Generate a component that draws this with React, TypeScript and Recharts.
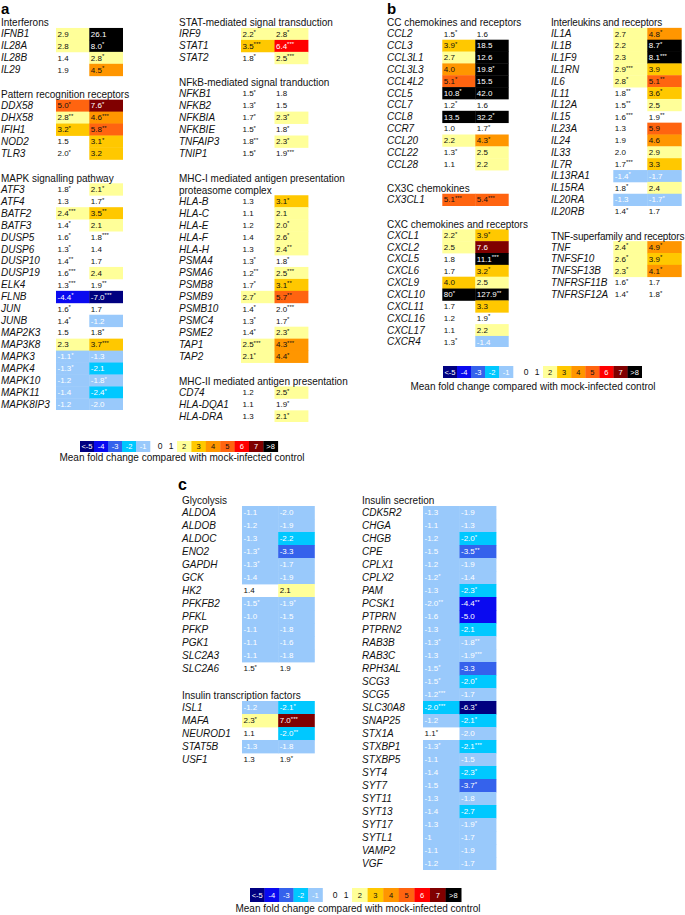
import React from 'react';
import { ScatterChart, Scatter, XAxis, YAxis } from 'recharts';

const FONT = '"Liberation Sans", Arial, Helvetica, sans-serif';

type Val = number | string;

/* ---------- panel a ---------- */
const ifnGenes = ['IFNB1', 'IL28A', 'IL28B', 'IL29'];
const ifnFc1: Val[] = [2.9, 2.8, 1.4, 1.9];
const ifnP1 = [0, 0, 0, 0];
const ifnFc2: Val[] = [26.1, 8.0, 2.8, 4.5];
const ifnP2 = [0, 1, 1, 1];

const prrGenes = ['DDX58', 'DHX58', 'IFIH1', 'NOD2', 'TLR3'];
const prrFc1: Val[] = [5.0, 2.8, 3.2, 1.5, 1.96];
const prrP1 = [1, 2, 1, 0, 1];
const prrFc2: Val[] = [7.6, 4.6, 5.8, 3.1, 3.2];
const prrP2 = [1, 3, 2, 1, 0];

const mapkGenes = ['ATF3', 'ATF4', 'BATF2', 'BATF3', 'DUSP5', 'DUSP6', 'DUSP10', 'DUSP19', 'ELK4', 'FLNB', 'JUN', 'JUNB', 'MAP2K3', 'MAP3K8', 'MAPK3', 'MAPK4', 'MAPK10', 'MAPK11', 'MAPK8IP3'];
const mapkFc1: Val[] = [1.8, 1.3, 2.4, 1.4, 1.6, 1.3, 1.4, 1.6, 1.3, -4.4, 1.6, 1.4, 1.5, 2.3, -1.1, -1.3, -1.2, -1.4, -1.2];
const mapkP1 = [1, 0, 3, 1, 1, 1, 2, 3, 3, 1, 1, 1, 0, 0, 1, 1, 0, 0, 0];
const mapkFc2: Val[] = [2.1, 1.7, 3.5, 2.1, 1.8, 1.4, 1.7, 2.4, 1.9, -7.0, 1.7, -1.2, 1.8, 3.7, -1.3, -2.1, -1.8, -2.4, -1.96];
const mapkP2 = [1, 1, 2, 0, 3, 0, 0, 0, 2, 3, 0, 0, 1, 3, 0, 0, 1, 1, 0];

const statGenes = ['IRF9', 'STAT1', 'STAT2'];
const statFc1: Val[] = [2.2, 3.5, 1.8];
const statP1 = [1, 3, 1];
const statFc2: Val[] = [2.8, 6.4, 2.5];
const statP2 = [1, 3, 3];

const nfkbGenes = ['NFKB1', 'NFKB2', 'NFKBIA', 'NFKBIE', 'TNFAIP3', 'TNIP1'];
const nfkbFc1: Val[] = [1.5, 1.3, 1.7, 1.5, 1.8, 1.5];
const nfkbP1 = [1, 1, 1, 1, 2, 1];
const nfkbFc2: Val[] = [1.8, 1.5, 2.3, 1.8, 2.3, 1.9];
const nfkbP2 = [0, 0, 1, 1, 1, 3];

const mhc1Genes = ['HLA-B', 'HLA-C', 'HLA-E', 'HLA-F', 'HLA-H', 'PSMA4', 'PSMA6', 'PSMB8', 'PSMB9', 'PSMB10', 'PSMC4', 'PSME2', 'TAP1', 'TAP2'];
const mhc1Fc1: Val[] = [1.3, 1.1, 1.2, 1.4, 1.3, 1.3, 1.2, 1.7, 2.7, 1.4, 1.3, 1.4, 2.5, 2.1];
const mhc1P1 = [0, 0, 0, 0, 0, 1, 2, 1, 1, 1, 1, 1, 3, 1];
const mhc1Fc2: Val[] = [3.1, 2.1, 2.0, 2.6, 2.4, 1.8, 2.5, 3.1, 5.7, 1.96, 1.7, 2.3, 4.3, 4.4];
const mhc1P2 = [1, 0, 1, 1, 2, 1, 3, 2, 2, 3, 1, 1, 3, 1];

const mhc2Genes = ['CD74', 'HLA-DQA1', 'HLA-DRA'];
const mhc2Fc1: Val[] = [1.2, 1.1, 1.3];
const mhc2P1 = [0, 0, 0];
const mhc2Fc2: Val[] = [2.5, 1.9, 2.1];
const mhc2P2 = [1, 1, 1];

/* ---------- panel b ---------- */
const ccGenes = ['CCL2', 'CCL3', 'CCL3L1', 'CCL3L3', 'CCL4L2', 'CCL5', 'CCL7', 'CCL8', 'CCR7', 'CCL20', 'CCL22', 'CCL28'];
const ccFc1: Val[] = [1.5, 3.9, 2.7, 4.0, 5.1, 10.8, 1.2, 13.5, 1.0, 2.2, 1.3, 1.1];
const ccP1 = [1, 1, 0, 0, 1, 1, 1, 0, 0, 0, 1, 0];
const ccFc2: Val[] = [1.6, 18.5, 12.6, 19.8, 15.5, 42.0, 1.6, 32.2, 1.7, 4.3, 2.5, 2.2];
const ccP2 = [0, 0, 0, 1, 0, 0, 0, 1, 1, 1, 0, 0];

const cx3cGenes = ['CX3CL1'];
const cx3cFc1: Val[] = [5.1];
const cx3cP1 = [3];
const cx3cFc2: Val[] = [5.4];
const cx3cP2 = [3];

const cxcGenes = ['CXCL1', 'CXCL2', 'CXCL5', 'CXCL6', 'CXCL9', 'CXCL10', 'CXCL11', 'CXCL16', 'CXCL17', 'CXCR4'];
const cxcFc1: Val[] = [2.2, 2.5, 1.8, 1.7, 3.96, '80', 1.7, 1.2, 1.1, 1.3];
const cxcP1 = [1, 0, 0, 0, 0, 1, 0, 0, 0, 1];
const cxcFc2: Val[] = [3.9, 7.6, 11.1, 3.2, 2.5, 127.9, 3.3, 1.9, 2.2, -1.4];
const cxcP2 = [1, 0, 3, 1, 0, 2, 0, 1, 0, 0];

const ilGenes = ['IL1A', 'IL1B', 'IL1F9', 'IL1RN', 'IL6', 'IL11', 'IL12A', 'IL15', 'IL23A', 'IL24', 'IL33', 'IL7R', 'IL13RA1', 'IL15RA', 'IL20RA', 'IL20RB'];
const ilFc1: Val[] = [2.7, 2.2, 2.3, 2.9, 2.8, 1.8, 1.5, 1.6, 1.3, 1.9, 1.96, 1.7, -1.4, 1.8, -1.3, 1.4];
const ilP1 = [0, 0, 0, 3, 1, 2, 2, 3, 0, 0, 0, 3, 1, 1, 0, 1];
const ilFc2: Val[] = [4.8, 8.7, 8.1, 3.9, 5.1, 3.6, 2.5, 1.9, 5.9, 4.6, 2.9, 3.3, -1.7, 2.4, -1.7, 1.7];
const ilP2 = [1, 1, 3, 0, 2, 1, 0, 2, 0, 0, 0, 0, 0, 0, 1, 0];

const tnfGenes = ['TNF', 'TNFSF10', 'TNFSF13B', 'TNFRSF11B', 'TNFRSF12A'];
const tnfFc1: Val[] = [2.4, 2.6, 2.3, 1.6, 1.4];
const tnfP1 = [1, 1, 1, 1, 1];
const tnfFc2: Val[] = [4.9, 3.9, 4.1, 1.7, 1.8];
const tnfP2 = [1, 1, 1, 0, 1];

/* ---------- panel c ---------- */
const glyGenes = ['ALDOA', 'ALDOB', 'ALDOC', 'ENO2', 'GAPDH', 'GCK', 'HK2', 'PFKFB2', 'PFKL', 'PFKP', 'PGK1', 'SLC2A3', 'SLC2A6'];
const glyFc1: Val[] = [-1.1, -1.2, -1.3, -1.3, -1.3, -1.4, 1.4, -1.5, -1.0, -1.1, -1.1, -1.1, 1.5];
const glyP1 = [0, 0, 0, 1, 1, 0, 0, 1, 0, 0, 0, 0, 1];
const glyFc2: Val[] = [-1.96, -1.9, -2.2, -3.3, -1.7, -1.9, 2.1, -1.9, -1.5, -1.8, -1.6, -1.8, 1.9];
const glyP2 = [0, 0, 0, 0, 0, 0, 0, 1, 0, 0, 0, 0, 0];

const itfGenes = ['ISL1', 'MAFA', 'NEUROD1', 'STAT5B', 'USF1'];
const itfFc1: Val[] = [-1.2, 2.3, 1.1, -1.3, 1.3];
const itfP1 = [0, 1, 0, 0, 0];
const itfFc2: Val[] = [-2.1, 7.0, -2.0, -1.8, 1.9];
const itfP2 = [1, 3, 2, 0, 1];

const insGenes = ['CDK5R2', 'CHGA', 'CHGB', 'CPE', 'CPLX1', 'CPLX2', 'PAM', 'PCSK1', 'PTPRN', 'PTPRN2', 'RAB3B', 'RAB3C', 'RPH3AL', 'SCG3', 'SCG5', 'SLC30A8', 'SNAP25', 'STX1A', 'STXBP1', 'STXBP5', 'SYT4', 'SYT7', 'SYT11', 'SYT13', 'SYT17', 'SYTL1', 'VAMP2', 'VGF'];
const insFc1: Val[] = [-1.3, -1.1, -1.2, -1.5, -1.2, -1.2, -1.3, -1.96, -1.6, -1.3, -1.3, -1.3, -1.5, -1.5, -1.2, -2.0, -1.2, 1.1, -1.3, -1.1, -1.4, -1.5, -1.3, -1.4, -1.3, '-1', -1.1, -1.2];
const insP1 = [0, 0, 0, 0, 0, 1, 0, 2, 0, 0, 1, 0, 1, 1, 3, 3, 0, 1, 1, 0, 0, 0, 0, 0, 0, 0, 0, 0];
const insFc2: Val[] = [-1.9, -1.3, -2.0, -3.5, -1.9, -1.4, -2.3, -4.4, -5.0, -2.1, -1.8, -1.9, -3.3, -2.0, -1.7, -6.3, -2.1, -1.96, -2.1, -1.5, -2.3, -3.7, -1.8, -2.7, -1.9, -1.7, -1.9, -1.7];
const insP2 = [0, 0, 1, 2, 0, 0, 1, 2, 0, 0, 2, 3, 0, 1, 0, 1, 1, 0, 3, 0, 1, 1, 0, 0, 1, 0, 0, 0];

/* ---------- colour scale ---------- */
const BLUE_LABELS = ['<-5', '-4', '-3', '-2', '-1'];
const BLUE_COLORS = ['#000080', '#0a0af0', '#3562ec', '#00c8ff', '#99c9fb'];
const WARM_LABELS = ['2', '3', '4', '5', '6', '7', '>8'];
const WARM_COLORS = ['#ffff99', '#ffc800', '#ff9600', '#ff6410', '#ff0000', '#800000', '#000000'];
const CAPTION = 'Mean fold change compared with mock-infected control';

function cellFill(v: number): string | null {
  if (v >= 8) return WARM_COLORS[6];
  if (v >= 2) return WARM_COLORS[Math.floor(v) - 2];
  if (v > -1) return null;
  if (v > -2) return BLUE_COLORS[4];
  if (v > -3) return BLUE_COLORS[3];
  if (v > -4) return BLUE_COLORS[2];
  if (v >= -5) return BLUE_COLORS[1];
  return BLUE_COLORS[0];
}

interface Section {
  title: string[];
  genes: string[];
  fc1: Val[];
  p1: number[];
  fc2: Val[];
  p2: number[];
}

const sec = (title: string[], genes: string[], fc1: Val[], p1: number[], fc2: Val[], p2: number[]): Section => ({ title, genes, fc1, p1, fc2, p2 });

interface Row { kind: 'head' | 'gene' | 'gap'; text: string }

function buildColumn(sections: Section[]) {
  const rows: Row[] = [];
  const day1: any[] = [];
  const day2: any[] = [];
  sections.forEach((s, si) => {
    if (si > 0) rows.push({ kind: 'gap', text: '' });
    s.title.forEach(t => rows.push({ kind: 'head', text: t }));
    s.genes.forEach((g, gi) => {
      const y = rows.length;
      rows.push({ kind: 'gene', text: g });
      day1.push({ x: 0.5, y, v: s.fc1[gi], p: s.p1[gi] });
      day2.push({ x: 1.5, y, v: s.fc2[gi], p: s.p2[gi] });
    });
  });
  return { rows, day1, day2 };
}

const PADL = 3;

function RowLabel(props: any) {
  const { y, payload, rows, track } = props;
  const row: Row = rows[payload.value];
  if (!row || row.kind === 'gap') return null;
  const head = row.kind === 'head';
  return (
    <text
      x={PADL}
      y={y}
      dy={head ? '0.45em' : '0.35em'}
      fontSize={10}
      fontFamily={FONT}
      fontStyle={head ? 'normal' : 'italic'}
      letterSpacing={head ? track : 0}
      fill="#111"
    >
      {row.text}
    </text>
  );
}

function HeatCell(props: any) {
  const { cx, cy, payload, w, h } = props;
  if (cx == null || cy == null) return null;
  const num = Number(payload.v);
  const fill = cellFill(num);
  const txt = typeof payload.v === 'string' ? payload.v : payload.v.toFixed(1);
  const light = fill !== null && (num >= 6 || num <= -1);
  return (
    <g>
      {fill && (
        <rect x={cx - w / 2} y={cy - h / 2} width={w + 0.4} height={h + 0.4} fill={fill} />
      )}
      <text x={cx - w / 2 + 1.5} y={cy} dy="0.35em" fontSize={8} fontFamily={FONT} fill={light ? '#ffffff' : '#111'}>
        {txt}
        {payload.p > 0 && (
          <tspan fontSize={6} dy={-2.5}>{'*'.repeat(payload.p)}</tspan>
        )}
      </text>
    </g>
  );
}

interface ColumnProps {
  sections: Section[];
  left: number;
  row0: number;
  pitch: number;
  labelW: number;
  cellW: number;
  padR: number;
  track?: number;
}

function Column({ sections, left, row0, pitch, labelW, cellW, padR, track = 0 }: ColumnProps) {
  const { rows, day1, day2 } = buildColumn(sections);
  const n = rows.length;
  const height = n * pitch;
  const width = PADL + labelW + 2 * cellW + padR;
  const shape = (p: any) => <HeatCell {...p} w={cellW} h={pitch} />;
  return (
    <div style={{ position: 'absolute', left: left - PADL, top: row0 - pitch / 2 }}>
      <ScatterChart width={width} height={height} margin={{ top: 0, right: padR, bottom: 0, left: PADL }}>
        <XAxis type="number" dataKey="x" domain={[0, 2]} hide />
        <YAxis
          type="number"
          dataKey="y"
          domain={[-0.5, n - 0.5]}
          reversed
          ticks={rows.map((_, i) => i)}
          interval={0}
          width={labelW}
          axisLine={false}
          tickLine={false}
          tick={<RowLabel rows={rows} track={track} />}
        />
        <Scatter data={day1} shape={shape} isAnimationActive={false} />
        <Scatter data={day2} shape={shape} isAnimationActive={false} />
      </ScatterChart>
    </div>
  );
}

interface ScaleProps { blueX: number; warmX: number; bw: number; ww: number; y: number; h: number; capX: number; capY: number }

function ScaleBar({ blueX, warmX, bw, ww, y, h, capX, capY }: ScaleProps) {
  return (
    <g fontFamily={FONT}>
      {BLUE_LABELS.map((l, i) => (
        <g key={l}>
          <rect x={blueX + i * bw} y={y} width={bw + 0.3} height={h} fill={BLUE_COLORS[i]} />
          <text x={blueX + i * bw + bw / 2} y={y + h / 2} dy="0.35em" textAnchor="middle" fontSize={7.5} fill="#fff">{l}</text>
        </g>
      ))}
      <text x={warmX - 17} y={y + h / 2} dy="0.35em" textAnchor="middle" fontSize={8.5} fill="#111">0</text>
      <text x={warmX - 6} y={y + h / 2} dy="0.35em" textAnchor="middle" fontSize={8.5} fill="#111">1</text>
      {WARM_LABELS.map((l, i) => (
        <g key={l}>
          <rect x={warmX + i * ww} y={y} width={ww + 0.3} height={h} fill={WARM_COLORS[i]} />
          <text x={warmX + i * ww + ww / 2} y={y + h / 2} dy="0.35em" textAnchor="middle" fontSize={7.5} fill={i >= 4 ? '#fff' : '#111'}>{l}</text>
        </g>
      ))}
      <text x={capX} y={capY} dy="0.35em" textAnchor="middle" fontSize={10} fill="#111">{CAPTION}</text>
    </g>
  );
}

export default function App() {
  const colA1 = [
    sec(['Interferons'], ifnGenes, ifnFc1, ifnP1, ifnFc2, ifnP2),
    sec(['Pattern recognition receptors'], prrGenes, prrFc1, prrP1, prrFc2, prrP2),
    sec(['MAPK signalling pathway'], mapkGenes, mapkFc1, mapkP1, mapkFc2, mapkP2),
  ];
  const colA2 = [
    sec(['STAT-mediated signal transduction'], statGenes, statFc1, statP1, statFc2, statP2),
    sec(['NFkB-mediated signal tranduction'], nfkbGenes, nfkbFc1, nfkbP1, nfkbFc2, nfkbP2),
    sec(['MHC-I mediated antigen presentation', 'proteasome complex'], mhc1Genes, mhc1Fc1, mhc1P1, mhc1Fc2, mhc1P2),
    sec(['MHC-II mediated antigen presentation'], mhc2Genes, mhc2Fc1, mhc2P1, mhc2Fc2, mhc2P2),
  ];
  const colB1 = [
    sec(['CC chemokines and receptors'], ccGenes, ccFc1, ccP1, ccFc2, ccP2),
    sec(['CX3C chemokines'], cx3cGenes, cx3cFc1, cx3cP1, cx3cFc2, cx3cP2),
    sec(['CXC chemokines and receptors'], cxcGenes, cxcFc1, cxcP1, cxcFc2, cxcP2),
  ];
  const colB2 = [
    sec(['Interleukins and receptors'], ilGenes, ilFc1, ilP1, ilFc2, ilP2),
    sec(['TNF-superfamily and receptors'], tnfGenes, tnfFc1, tnfP1, tnfFc2, tnfP2),
  ];
  const colC1 = [
    sec(['Glycolysis'], glyGenes, glyFc1, glyP1, glyFc2, glyP2),
    sec(['Insulin transcription factors'], itfGenes, itfFc1, itfP1, itfFc2, itfP2),
  ];
  const colC2 = [sec(['Insulin secretion'], insGenes, insFc1, insP1, insFc2, insP2)];

  return (
    <div style={{ position: 'absolute', left: 0, top: 0, width: 685, height: 915, background: '#fff', overflow: 'hidden', fontFamily: FONT }}>
      <svg width={685} height={915} style={{ position: 'absolute', left: 0, top: 0 }}>
        <text x={1} y={13.8} fontSize={15} fontWeight="bold" fontFamily={FONT}>a</text>
        <text x={387} y={13.8} fontSize={15} fontWeight="bold" fontFamily={FONT}>b</text>
        <text x={178} y={490} fontSize={16} fontWeight="bold" fontFamily={FONT}>c</text>
        <ScaleBar blueX={80} warmX={177} bw={14} ww={14.4} y={441} h={11} capX={182} capY={457} />
        <ScaleBar blueX={443} warmX={543} bw={14} ww={14.1} y={366} h={12} capX={533} capY={386} />
        <ScaleBar blueX={250} warmX={352} bw={14.5} ww={15.6} y={888} h={14} capX={358} capY={908} />
      </svg>
      <Column sections={colA1} left={1} row0={21.5} pitch={11.95} labelW={55} cellW={33.3} padR={12} />
      <Column sections={colA2} left={179} row0={21.5} pitch={11.95} labelW={62} cellW={33.5} padR={45} />
      <Column sections={colB1} left={387} row0={21.5} pitch={11.85} labelW={55.3} cellW={33} padR={20} />
      <Column sections={colB2} left={550.7} row0={21.5} pitch={11.85} labelW={62.3} cellW={34} padR={4} track={-0.15} />
      <Column sections={colC1} left={181.7} row0={499} pitch={13} labelW={60} cellW={36.2} padR={10} />
      <Column sections={colC2} left={361.7} row0={499} pitch={13} labelW={61} cellW={36.5} padR={10} />
    </div>
  );
}
